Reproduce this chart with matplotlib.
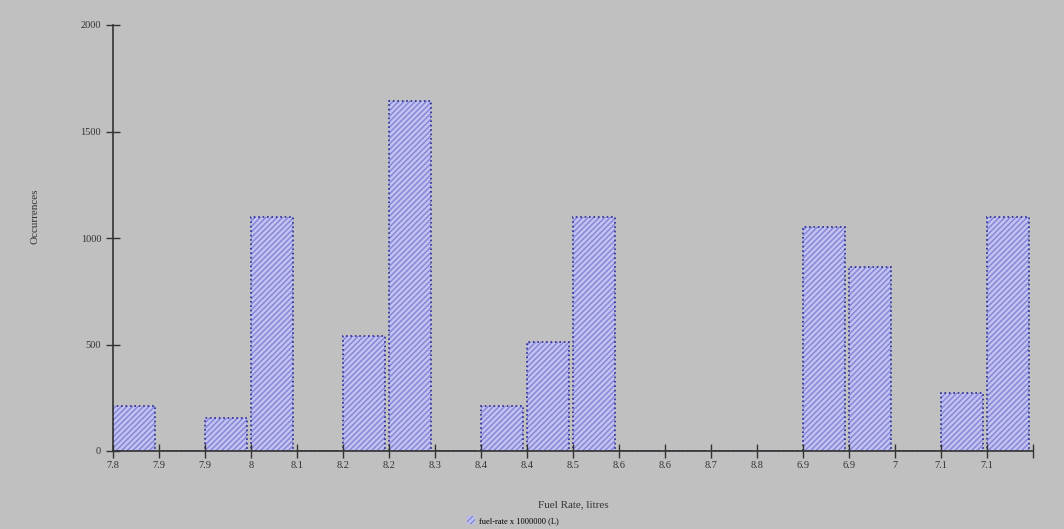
import numpy as np
import matplotlib.pyplot as plt

# bin labels (left edge of each bin) as printed on the chart
bin_labels = ["7.8", "7.9", "7.9", "8", "8.1", "8.2", "8.2", "8.3", "8.4", "8.4",
              "8.5", "8.6", "8.6", "8.7", "8.8", "6.9", "6.9", "7", "7.1", "7.1"]
occurrences = [210, 0, 155, 1100, 0, 540, 1645, 0, 210, 512,
               1100, 0, 0, 0, 0, 1050, 865, 0, 272, 1100]
y_ticks = [0, 500, 1000, 1500, 2000]

bg = '#c0c0c0'
fig = plt.figure(figsize=(10.64, 5.29), dpi=100, facecolor=bg)
ax = fig.add_axes([113 / 1064, 78 / 529, 920 / 1064, 426 / 529])
ax.set_facecolor(bg)

x = np.arange(len(occurrences))
ax.bar(x, occurrences, width=0.92, align='edge', color='#c2c2f2',
       edgecolor='#8484d4', hatch='//////', linewidth=0)
ax.bar(x, occurrences, width=0.92, align='edge', fill=False,
       edgecolor='#2a2a96', linestyle=':', linewidth=1.2)

ax.set_xlim(0, len(occurrences))
ax.set_ylim(0, 2000)
ax.set_xticks(np.arange(len(occurrences) + 1))
ax.set_xticklabels(bin_labels + [""], fontsize=7.5, family='Liberation Serif',
                   color='#333333')
ax.set_yticks(y_ticks)
ax.set_yticklabels([str(v) for v in y_ticks], fontsize=7.5,
                   family='Liberation Serif', color='#333333')
ax.tick_params(axis='both', direction='inout', length=10, width=1,
               color='#333333')
ax.tick_params(axis='x', pad=2)

for s in ['top', 'right']:
    ax.spines[s].set_visible(False)
for s in ['left', 'bottom']:
    ax.spines[s].set_color('#333333')
    ax.spines[s].set_linewidth(1.2)

ax.set_ylabel('Occurrences', fontsize=8, family='Liberation Serif',
              color='#333333', labelpad=0)
ax.yaxis.set_label_coords(-0.08, 0.55)
ax.set_xlabel('Fuel Rate, litres', fontsize=8, family='Liberation Serif',
              color='#333333', labelpad=22)

leg = ax.legend(['fuel-rate x 1000000 (L)'], loc='upper center',
                bbox_to_anchor=(0.435, -0.135), frameon=False,
                prop={'family': 'Liberation Serif', 'size': 6},
                handlelength=0.9, handleheight=1.1, handletextpad=0.5)

fig.savefig('out.png', dpi=100, facecolor=bg)
